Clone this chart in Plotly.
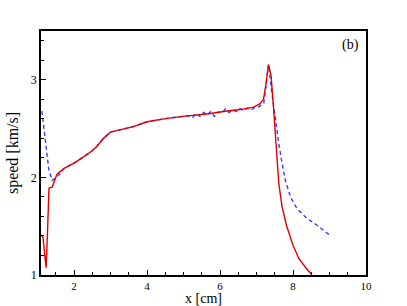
import plotly.graph_objects as go

red_x = [1.096, 1.15, 1.20, 1.235, 1.27, 1.315, 1.40, 1.44, 1.53, 1.72, 2.0, 2.26, 2.49, 2.63, 2.81, 3.0,
         3.27, 3.63, 4.0, 4.55, 5.10, 5.64, 6.19, 6.56, 6.92, 7.10, 7.19, 7.25, 7.33, 7.40, 7.47, 7.54,
         7.61, 7.70, 7.82, 8.0, 8.16, 8.34, 8.52]
red_y = [1.41, 1.39, 1.20, 1.075, 1.40, 1.89, 1.90, 1.94, 2.03, 2.09, 2.146, 2.21, 2.27, 2.32, 2.40, 2.465,
         2.49, 2.52, 2.57, 2.605, 2.63, 2.65, 2.68, 2.695, 2.72, 2.755, 2.80, 2.93, 3.155, 3.04, 2.695, 2.28,
         1.94, 1.70, 1.51, 1.305, 1.17, 1.08, 1.0]

blue_x = [1.12, 1.21, 1.31, 1.40, 1.49, 1.63, 1.72, 2.0, 2.26, 2.49, 2.63, 2.81, 3.0, 3.27, 3.63, 4.0, 4.55,
          5.10, 5.25, 5.35, 5.45, 5.55, 5.65, 5.75, 5.85, 5.95, 6.05, 6.15, 6.25, 6.35, 6.45, 6.55, 6.65,
          6.75, 6.85, 6.95, 7.05, 7.20, 7.33, 7.42, 7.52, 7.61, 7.70, 7.79, 7.93, 8.11, 8.38, 8.66, 9.0]
blue_y = [2.68, 2.386, 2.08, 1.97, 1.99, 2.04, 2.09, 2.146, 2.21, 2.27, 2.32, 2.40, 2.465, 2.49, 2.52, 2.57, 2.605,
          2.63, 2.615, 2.655, 2.625, 2.665, 2.64, 2.675, 2.625, 2.67, 2.66, 2.70, 2.665, 2.69, 2.675, 2.705, 2.685,
          2.71, 2.69, 2.715, 2.72, 2.76, 3.155, 2.87, 2.59, 2.35, 2.146, 1.97, 1.80, 1.68, 1.58, 1.51, 1.41]

x_ticks = [2, 4, 6, 8, 10]
y_ticks = [1, 2, 3]

SERIF = "Liberation Serif"

fig = go.Figure()
fig.add_trace(go.Scatter(x=blue_x, y=blue_y, mode="lines",
                         line=dict(color="#3a3aff", width=1.4, dash="4px,3px")))
fig.add_trace(go.Scatter(x=red_x, y=red_y, mode="lines",
                         line=dict(color="#e00000", width=1.4)))

fig.update_layout(
    width=407, height=306,
    margin=dict(l=41, r=41, t=31, b=31, autoexpand=False),
    paper_bgcolor="white", plot_bgcolor="white",
    showlegend=False,
    font=dict(family=SERIF, size=12, color="black"),
    annotations=[
        dict(text="(b)", x=0.985, y=0.985, xref="paper", yref="paper",
             xanchor="right", yanchor="top", showarrow=False,
             font=dict(family=SERIF, size=14, color="black")),
    ],
)

fig.update_xaxes(range=[1.096, 10], tickvals=x_ticks, ticks="inside", ticklen=5, tickwidth=1.3,
                 tickcolor="black", showgrid=False, zeroline=False,
                 showline=True, linecolor="black", linewidth=1.5, mirror=True,
                 minor=dict(dtick=0.5, tick0=0, ticks="inside", ticklen=3, tickcolor="black"),
                 title=dict(text="x [cm]", font=dict(family=SERIF, size=14, color="black"), standoff=2),
                 tickfont=dict(family=SERIF, size=11, color="black"))
fig.update_yaxes(range=[1, 3.5], tickvals=y_ticks, ticks="inside", ticklen=5, tickwidth=1.3,
                 tickcolor="black", showgrid=False, zeroline=False,
                 showline=True, linecolor="black", linewidth=1.5, mirror=True,
                 minor=dict(dtick=0.2, tick0=0, ticks="inside", ticklen=3, tickcolor="black"),
                 title=dict(text="speed [km/s]", font=dict(family=SERIF, size=16, color="black"), standoff=8),
                 tickfont=dict(family=SERIF, size=12, color="black"))
fig.write_html("out.html", config={"displayModeBar": False},
               post_script="document.body.style.margin='0';document.body.style.padding='0';")
